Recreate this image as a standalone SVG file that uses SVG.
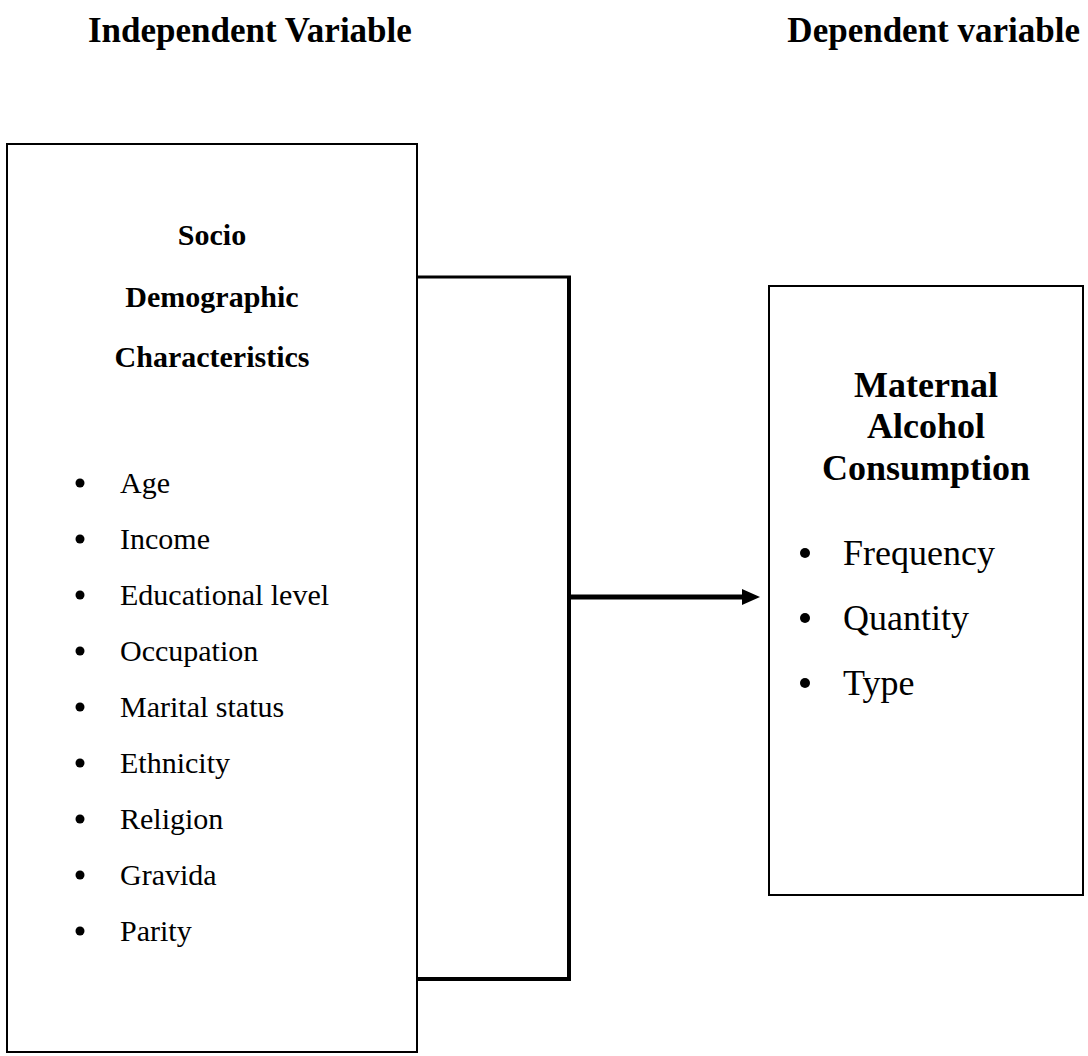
<svg xmlns="http://www.w3.org/2000/svg" width="1088" height="1056" viewBox="0 0 1088 1056">
<style>
text { font-family: "Liberation Serif", "Times New Roman", serif; fill: #000; }
.title { font-size: 35px; font-weight: bold; }
.hl { font-size: 30px; font-weight: bold; text-anchor: middle; }
.hr { font-size: 36px; font-weight: bold; text-anchor: middle; }
.il { font-size: 30px; }
.ir { font-size: 36px; }
.box { fill: #fff; stroke: #000; stroke-width: 2; }
.conn { stroke: #000; fill: none; }
</style>
<rect width="1088" height="1056" fill="#fff"/>
<g id="titles">
<text class="title" x="88" y="42">Independent Variable</text>
<text class="title" x="1080" y="42" text-anchor="end">Dependent variable</text>
</g>
<g id="independent">
<rect class="box" x="7" y="144" width="410" height="908"/>
<text class="hl" x="212" y="245">Socio</text>
<text class="hl" x="212" y="307">Demographic</text>
<text class="hl" x="212" y="367">Characteristics</text>
<g fill="#000">
<circle cx="80" cy="483" r="4.5"/>
<circle cx="80" cy="539" r="4.5"/>
<circle cx="80" cy="595" r="4.5"/>
<circle cx="80" cy="651" r="4.5"/>
<circle cx="80" cy="707" r="4.5"/>
<circle cx="80" cy="763" r="4.5"/>
<circle cx="80" cy="819" r="4.5"/>
<circle cx="80" cy="875" r="4.5"/>
<circle cx="80" cy="931" r="4.5"/>
</g>
<text class="il" x="120" y="493">Age</text>
<text class="il" x="120" y="549">Income</text>
<text class="il" x="120" y="605">Educational level</text>
<text class="il" x="120" y="661">Occupation</text>
<text class="il" x="120" y="717">Marital status</text>
<text class="il" x="120" y="773">Ethnicity</text>
<text class="il" x="120" y="829">Religion</text>
<text class="il" x="120" y="885">Gravida</text>
<text class="il" x="120" y="941">Parity</text>
</g>
<g id="dependent">
<rect class="box" x="769" y="286" width="314" height="609"/>
<text class="hr" x="926" y="397">Maternal</text>
<text class="hr" x="926" y="438">Alcohol</text>
<text class="hr" x="926" y="480">Consumption</text>
<g fill="#000">
<circle cx="805" cy="553" r="5"/>
<circle cx="805" cy="618" r="5"/>
<circle cx="805" cy="683" r="5"/>
</g>
<text class="ir" x="843" y="565">Frequency</text>
<text class="ir" x="843" y="630">Quantity</text>
<text class="ir" x="843" y="695">Type</text>
</g>
<g id="connectors">
<line class="conn" x1="417" y1="277" x2="571" y2="277" stroke-width="3"/>
<line class="conn" x1="569" y1="276" x2="569" y2="981" stroke-width="4"/>
<line class="conn" x1="417" y1="979" x2="571" y2="979" stroke-width="4"/>
<line class="conn" x1="569" y1="597" x2="745" y2="597" stroke-width="5"/>
<polygon points="742,589 760,597 742,605" fill="#000"/>
</g>
</svg>
